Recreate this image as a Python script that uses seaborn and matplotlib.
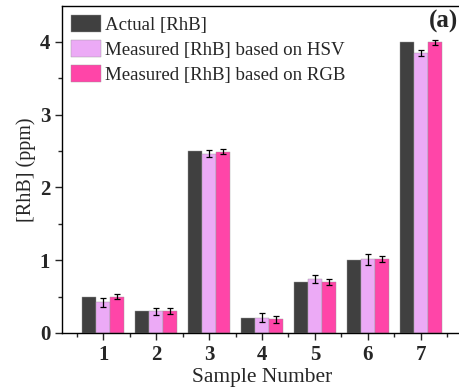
import matplotlib
matplotlib.use("Agg")
import matplotlib.pyplot as plt
import seaborn as sns
import pandas as pd
import numpy as np
from matplotlib.ticker import MultipleLocator, FixedLocator

samples = ["1", "2", "3", "4", "5", "6", "7"]
actual = [0.5, 0.3, 2.5, 0.2, 0.7, 1.0, 4.0]
hsv = [0.42, 0.30, 2.46, 0.21, 0.74, 1.01, 3.85]
hsv_err = [0.06, 0.05, 0.05, 0.065, 0.06, 0.08, 0.04]
rgb = [0.50, 0.30, 2.49, 0.19, 0.70, 1.02, 3.99]
rgb_err = [0.04, 0.04, 0.03, 0.05, 0.035, 0.04, 0.035]
series = ["Actual [RhB]", "Measured [RhB] based on HSV", "Measured [RhB] based on RGB"]
colors = ["#404040", "#ECAAF6", "#FF45A8"]

sns.set_style("ticks")
plt.rcParams["font.family"] = ["Liberation Serif", "DejaVu Serif"]

df = pd.DataFrame({
    "Sample": samples * 3,
    "Value": actual + hsv + rgb,
    "Series": [series[0]] * 7 + [series[1]] * 7 + [series[2]] * 7,
})

fig = plt.figure(figsize=(4.59, 3.89), dpi=100)
ax = fig.add_axes([62 / 459, 1 - 333 / 389, (462 - 62) / 459, (333 - 6) / 389])
sns.barplot(data=df, x="Sample", y="Value", hue="Series", order=samples,
            hue_order=series, palette=colors, saturation=1, errorbar=None,
            width=0.8, edgecolor="#999999", linewidth=0.3, ax=ax)

# error bars
errs = [None, hsv_err, rgb_err]
vals = [actual, hsv, rgb]
bar_conts = list(ax.containers)[:3]
for k, cont in enumerate(bar_conts):
    if errs[k] is None:
        continue
    xs = [p.get_x() + p.get_width() / 2 for p in cont.patches]
    ax.errorbar(xs, vals[k], yerr=errs[k], fmt="none", ecolor="black",
                elinewidth=0.9, capsize=2.5, capthick=0.9)

ax.set_xlim(-0.78, 6.78)
ax.set_ylim(0, 4.49)
ax.yaxis.set_major_locator(MultipleLocator(1))
ax.yaxis.set_minor_locator(MultipleLocator(0.5))
ax.xaxis.set_minor_locator(FixedLocator(np.arange(-0.5, 7.0, 1.0)))
ax.tick_params(axis="both", which="major", direction="out", length=5, width=1,
               labelsize=15)
ax.tick_params(axis="both", which="minor", direction="out", length=3, width=1)
for lab in ax.get_xticklabels() + ax.get_yticklabels():
    lab.set_fontweight("bold")
for s in ax.spines.values():
    s.set_visible(True)
    s.set_linewidth(1.0)
    s.set_color("black")

ax.set_xlabel("Sample Number", fontsize=15.5, labelpad=2)
ax.set_ylabel("[RhB] (ppm)", fontsize=14.5, labelpad=3)

leg = ax.legend(loc="upper left", frameon=False, fontsize=13.6,
                handlelength=1.55, handleheight=1.0, handletextpad=0.25,
                labelspacing=0.3, borderaxespad=0.2, borderpad=0.3,
                bbox_to_anchor=(0.0, 1.0))
ax.text(444 / 459, 1 - 21 / 389, "(a)", transform=fig.transFigure,
        fontsize=18, fontweight="bold", ha="center", va="center")

fig.savefig("out.png", dpi=100)
